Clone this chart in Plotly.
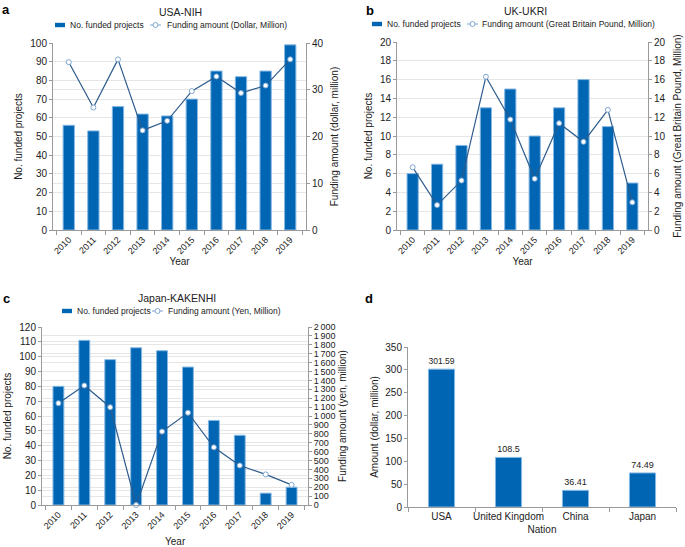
import plotly.graph_objects as go

W, H = 685, 547

years = ["2010", "2011", "2012", "2013", "2014", "2015", "2016", "2017", "2018", "2019"]

usa_projects = [56, 53, 66, 62, 61, 70, 85, 82, 85, 99]
usa_funding = [35.9, 26.2, 36.5, 21.3, 23.35, 29.7, 32.85, 29.3, 30.9, 36.5]

uk_projects = [6, 7, 9, 13, 15, 10, 13, 16, 11, 5]
uk_funding = [6.67, 2.65, 5.26, 16.3, 11.75, 5.45, 11.36, 9.38, 12.78, 2.94]

jp_projects = [80, 111, 98, 106, 104, 93, 57, 47, 8, 12]
jp_funding = [1144, 1343, 1099, 0, 825, 1037, 648, 444, 344, 226]

nations = ["USA", "United Kingdom", "China", "Japan"]
nation_amount = [301.59, 108.5, 36.41, 74.49]

jp_right_ticks = list(range(0, 2001, 100))

BAR = "#0066b3"
BAR_EDGE = "#86b8e4"
LINE = "#2d5b8c"
MK_EDGE = "#7fa8d4"
GRID = "#e6e6e6"
AX = "#9a9a9a"
TXT = "#222222"
FONT = "Liberation Sans, Arial, sans-serif"


def px_x(a, b):
    return [a / W, b / W]


def px_y(top, bottom):
    return [1 - bottom / H, 1 - top / H]


def X(p):
    return p / W


def Y(p):
    return 1 - p / H


fig = go.Figure()


def add_panel(xa, yl, yr, proj, fund, fund_name, bar_width):
    fig.add_trace(go.Bar(
        x=years, y=proj, name="No. funded projects", xaxis=xa, yaxis=yl,
        marker=dict(color=BAR, line=dict(color=BAR_EDGE, width=1)),
        width=bar_width, showlegend=False))
    fig.add_trace(go.Scatter(
        x=years, y=fund, name=fund_name, xaxis=xa, yaxis=yr, mode="lines+markers",
        line=dict(color=LINE, width=1.2),
        marker=dict(symbol="circle", size=5, color="white", line=dict(color=MK_EDGE, width=1)),
        showlegend=False, cliponaxis=False))


add_panel("x", "y", "y2", usa_projects, usa_funding, "Funding amount (Dollar, Million)", 0.46)
add_panel("x2", "y3", "y4", uk_projects, uk_funding,
          "Funding amount (Great Britain Pound, Million)", 0.46)
add_panel("x3", "y5", "y6", jp_projects, jp_funding, "Funding amount (Yen, Million)", 0.42)

fig.add_trace(go.Bar(
    x=nations, y=nation_amount, xaxis="x4", yaxis="y7", showlegend=False,
    marker=dict(color=BAR, line=dict(color=BAR_EDGE, width=1)), width=0.39,
    text=[str(v) for v in nation_amount], textposition="outside",
    textfont=dict(size=9, color=TXT), cliponaxis=False))

tickfont = dict(size=10, color=TXT, family=FONT)
xtickfont = dict(size=9, color=TXT, family=FONT)
titlefont = dict(size=10, color=TXT, family=FONT)


def xaxis(dom, anchor, angle=-45, title="Year", standoff=2, tf=None):
    return dict(domain=dom, anchor=anchor, type="category", showgrid=False,
                showline=True, linecolor=AX, ticks="outside", tickson="boundaries",
                ticklen=4, tickcolor=AX, tickangle=angle, tickfont=tf or xtickfont,
                title=dict(text=title, font=titlefont, standoff=standoff),
                automargin=False)


def yleft(dom, anchor, rng, dtick, title, standoff, grid=True):
    return dict(domain=dom, anchor=anchor, range=rng, dtick=dtick, showgrid=grid,
                gridcolor=GRID, showline=True, linecolor=AX, ticks="outside",
                ticklen=3, tickcolor=AX, tickfont=tickfont, zeroline=False,
                title=dict(text=title, font=titlefont, standoff=standoff),
                automargin=False)


def yright(anchor, overl, rng, title, standoff, dtick=None, tickvals=None, ticktext=None, tf=None):
    d = dict(anchor=anchor, overlaying=overl, side="right", range=rng,
             showgrid=True, gridcolor=GRID, showline=True, linecolor=AX,
             ticks="outside", ticklen=3, tickcolor=AX, tickfont=tf or tickfont,
             zeroline=False, title=dict(text=title, font=titlefont, standoff=standoff),
             automargin=False)
    if dtick is not None:
        d["dtick"] = dtick
    if tickvals is not None:
        d["tickmode"] = "array"
        d["tickvals"] = tickvals
        d["ticktext"] = ticktext
    return d


layout = dict(
    width=W, height=H, margin=dict(l=0, r=0, t=0, b=0, autoexpand=False),
    paper_bgcolor="white", plot_bgcolor="white",
    font=dict(family=FONT, color=TXT),
    barmode="overlay", showlegend=False,
    xaxis=xaxis(px_x(53, 306), "y"),
    yaxis=yleft(px_y(43, 230), "x", [0, 100], 10, "No. funded projects", 5),
    yaxis2=yright("x", "y", [0, 40], "Funding amount (dollar, million)", 8, dtick=10),
    xaxis2=xaxis(px_x(397, 648), "y3"),
    yaxis3=yleft(px_y(42, 230), "x2", [0, 20], 2, "No. funded projects", 5),
    yaxis4=yright("x2", "y3", [0, 20], "Funding amount (Great Britain Pound, Million)", 9, dtick=2),
    xaxis3=xaxis(px_x(42, 308), "y5", title=""),
    yaxis5=yleft(px_y(327, 505), "x3", [0, 120], 10, "No. funded projects", 5),
    yaxis6=yright("x3", "y5", [0, 2000], "Funding amount (yen, million)", 4,
                  tickvals=jp_right_ticks,
                  ticktext=[f"{v:,}".replace(",", "\u2009") for v in jp_right_ticks],
                  tf=dict(size=9, color=TXT, family=FONT)),
    xaxis4=xaxis(px_x(408, 676), "y7", angle=0, title="Nation", standoff=4, tf=tickfont),
    yaxis7=yleft(px_y(347, 507), "x4", [0, 350], 50, "Amount (dollar, million)", 4, grid=False),
)
fig.update_layout(**layout)

# Panel c x-axis title (kept inside the page)
fig.add_annotation(text="Year", x=X(175), y=Y(541), xref="paper", yref="paper",
                   xanchor="center", yanchor="middle", showarrow=False,
                   font=titlefont)

# Panel letters
for t, x, y in [("a", 0, 0), ("b", 364, 1), ("c", 1, 289), ("d", 363, 289)]:
    fig.add_annotation(text=f"<b>{t}</b>", x=X(x), y=Y(y), xref="paper", yref="paper",
                       xanchor="left", yanchor="top", showarrow=False,
                       font=dict(size=13, color="black", family=FONT))

# Panel titles
for t, x, y in [("USA-NIH", 180, 12), ("UK-UKRI", 525, 11), ("Japan-KAKENHI", 177, 298)]:
    fig.add_annotation(text=t, x=X(x), y=Y(y), xref="paper", yref="paper",
                       xanchor="center", yanchor="middle", showarrow=False,
                       font=dict(size=10.5, color=TXT, family=FONT))

# Legends (swatch x, text1 x, line x, text2 x, y, text2)
legends = [
    (55, 68, 150, 165, 25, "Funding amount (Dollar, Million)"),
    (372, 385, 467, 480, 24, "Funding amount (Great Britain Pound, Million)"),
    (62, 75, 152, 166, 311, "Funding amount (Yen, Million)"),
]
for sx, t1x, lx, t2x, ly, t2 in legends:
    fig.add_shape(type="rect", xref="paper", yref="paper",
                  x0=X(sx), x1=X(sx + 10), y0=Y(ly + 2.2), y1=Y(ly - 2.2),
                  fillcolor=BAR, line=dict(width=0))
    fig.add_shape(type="line", xref="paper", yref="paper",
                  x0=X(lx), x1=X(lx + 11), y0=Y(ly), y1=Y(ly),
                  line=dict(color=MK_EDGE, width=1))
    fig.add_shape(type="circle", xref="paper", yref="paper",
                  x0=X(lx + 3), x1=X(lx + 8), y0=Y(ly + 2.5), y1=Y(ly - 2.5),
                  fillcolor="white", line=dict(color=MK_EDGE, width=1))
    fig.add_annotation(text="No. funded projects", x=X(t1x), y=Y(ly), xref="paper", yref="paper",
                       xanchor="left", yanchor="middle", showarrow=False,
                       font=dict(size=8.5, color=TXT, family=FONT))
    fig.add_annotation(text=t2, x=X(t2x), y=Y(ly), xref="paper", yref="paper",
                       xanchor="left", yanchor="middle", showarrow=False,
                       font=dict(size=8.5, color=TXT, family=FONT))

fig.write_html("out.html", config={"displayModeBar": False},
               post_script="document.body.style.margin='0';document.body.style.padding='0';")
